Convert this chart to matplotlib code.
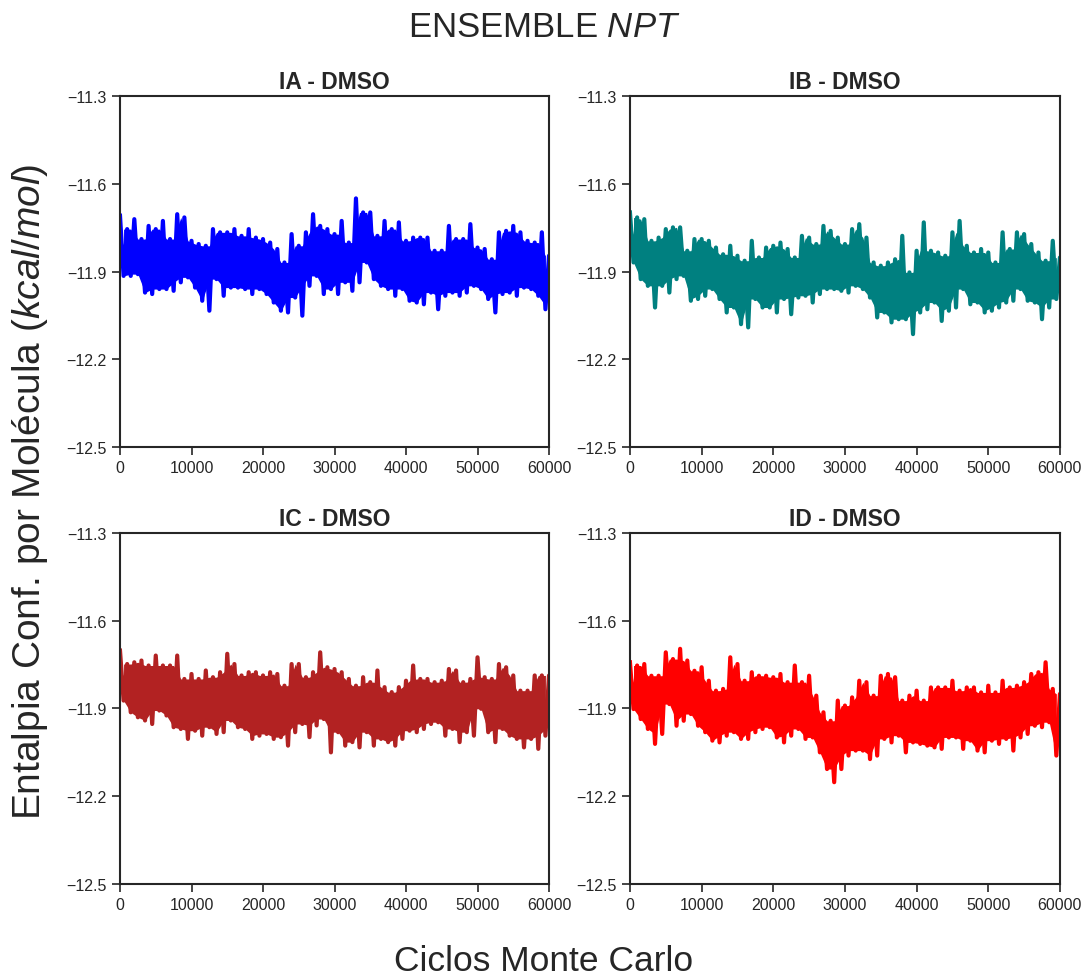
import matplotlib

matplotlib.use('Agg')
import matplotlib.pyplot as plt
import numpy as np

# Envelope readings per 1000 MC cycles (k = 0..60): local maxima and minima
ia_top = [-11.709, -11.755, -11.721, -11.789, -11.744, -11.755, -11.727, -11.789, -11.704, -11.715,
          -11.795, -11.806, -11.812, -11.755, -11.766, -11.766, -11.755, -11.778, -11.755, -11.784,
          -11.789, -11.801, -11.823, -11.869, -11.772, -11.812, -11.766, -11.704, -11.744, -11.755,
          -11.772, -11.727, -11.801, -11.650, -11.698, -11.698, -11.778, -11.727, -11.755, -11.732,
          -11.795, -11.784, -11.784, -11.784, -11.829, -11.829, -11.744, -11.789, -11.789, -11.738,
          -11.818, -11.823, -11.858, -11.766, -11.761, -11.744, -11.766, -11.795, -11.801, -11.766,
          -11.846]
ia_bot = [-11.915, -11.915, -11.909, -11.972, -11.977, -11.960, -11.960, -11.966, -11.937, -11.920,
          -11.955, -12.000, -12.034, -11.926, -11.983, -11.955, -11.955, -11.960, -11.977, -11.960,
          -11.977, -12.006, -12.034, -12.040, -11.989, -12.051, -11.949, -11.915, -11.977, -11.960,
          -11.977, -11.937, -11.966, -11.937, -11.869, -11.926, -11.949, -11.960, -11.983, -11.960,
          -12.000, -12.006, -12.012, -11.972, -12.029, -11.983, -11.972, -11.983, -11.972, -11.949,
          -11.960, -11.994, -12.040, -11.977, -11.972, -11.983, -11.955, -11.960, -11.983, -12.029,
          -12.017]

ib_top = [-11.698, -11.715, -11.721, -11.795, -11.784, -11.755, -11.749, -11.749, -11.829, -11.789,
          -11.789, -11.795, -11.818, -11.841, -11.812, -11.846, -11.863, -11.795, -11.852, -11.818,
          -11.812, -11.801, -11.823, -11.852, -11.778, -11.784, -11.806, -11.744, -11.761, -11.784,
          -11.806, -11.755, -11.738, -11.784, -11.869, -11.880, -11.869, -11.858, -11.778, -11.903,
          -11.829, -11.732, -11.829, -11.835, -11.846, -11.766, -11.727, -11.812, -11.835, -11.823,
          -11.835, -11.869, -11.766, -11.823, -11.766, -11.772, -11.806, -11.835, -11.863, -11.795,
          -11.852]
ib_bot = [-11.869, -11.926, -11.949, -12.023, -11.949, -11.972, -11.926, -11.915, -12.000, -11.994,
          -11.983, -11.960, -11.994, -12.040, -12.023, -12.080, -12.091, -11.994, -12.023, -12.023,
          -12.040, -11.994, -12.046, -11.989, -11.983, -12.006, -11.977, -11.960, -11.960, -11.966,
          -11.972, -11.949, -11.960, -11.989, -12.057, -12.040, -12.074, -12.063, -12.063, -12.114,
          -12.040, -12.029, -12.006, -12.069, -12.034, -12.023, -11.960, -12.012, -12.006, -12.040,
          -12.034, -12.023, -12.006, -12.000, -11.960, -12.000, -12.006, -12.063, -12.023, -11.994,
          -12.006]

ic_top = [-11.702, -11.748, -11.742, -11.736, -11.753, -11.719, -11.753, -11.753, -11.719, -11.799,
          -11.782, -11.799, -11.770, -11.793, -11.776, -11.713, -11.748, -11.787, -11.776, -11.776,
          -11.787, -11.776, -11.782, -11.822, -11.748, -11.748, -11.793, -11.776, -11.708, -11.759,
          -11.765, -11.776, -11.799, -11.822, -11.793, -11.810, -11.770, -11.827, -11.844, -11.827,
          -11.805, -11.753, -11.799, -11.799, -11.810, -11.805, -11.765, -11.770, -11.810, -11.799,
          -11.725, -11.793, -11.799, -11.748, -11.759, -11.787, -11.839, -11.839, -11.787, -11.787,
          -11.787]
ic_bot = [-11.873, -11.913, -11.930, -11.941, -11.953, -11.907, -11.924, -11.964, -11.970, -12.004,
          -11.976, -11.993, -11.964, -11.987, -11.981, -11.941, -11.964, -11.970, -12.004, -11.993,
          -11.987, -12.004, -11.998, -12.027, -11.981, -11.953, -11.998, -11.958, -11.936, -12.050,
          -11.981, -12.027, -12.015, -12.033, -11.981, -12.027, -12.004, -12.015, -12.027, -12.004,
          -11.976, -11.981, -11.970, -11.953, -11.947, -11.993, -11.970, -12.015, -11.981, -11.993,
          -11.901, -11.981, -12.015, -11.970, -11.993, -12.004, -12.033, -12.004, -12.038, -11.993,
          -11.970]

id_top = [-11.742, -11.753, -11.748, -11.788, -11.788, -11.708, -11.731, -11.696, -11.736, -11.771,
          -11.759, -11.805, -11.839, -11.833, -11.725, -11.748, -11.805, -11.776, -11.788, -11.788,
          -11.793, -11.782, -11.810, -11.753, -11.810, -11.788, -11.856, -11.913, -11.942, -11.873,
          -11.890, -11.862, -11.805, -11.810, -11.856, -11.788, -11.782, -11.793, -11.873, -11.856,
          -11.839, -11.873, -11.828, -11.828, -11.828, -11.805, -11.839, -11.828, -11.828, -11.845,
          -11.822, -11.845, -11.805, -11.828, -11.822, -11.810, -11.782, -11.776, -11.742, -11.833,
          -11.850]
id_bot = [-11.902, -11.936, -11.970, -12.021, -11.987, -11.885, -11.959, -11.942, -11.919, -11.959,
          -11.981, -12.010, -12.016, -11.993, -11.981, -12.004, -12.004, -11.981, -11.970, -11.964,
          -11.999, -12.016, -11.993, -11.970, -12.004, -11.999, -12.050, -12.107, -12.152, -12.107,
          -12.061, -12.044, -12.044, -12.073, -12.061, -12.004, -12.016, -11.993, -12.050, -12.016,
          -12.021, -12.027, -12.033, -12.038, -11.999, -11.999, -12.038, -12.010, -12.044, -12.050,
          -12.010, -12.021, -12.004, -12.044, -11.999, -11.987, -11.959, -11.964, -11.947, -12.061,
          -12.073]

titles = ['IA - DMSO', 'IB - DMSO', 'IC - DMSO', 'ID - DMSO']
colors = ['#0000ff', '#008080', '#b22222', '#ff0000']
yticks = [-11.3, -11.6, -11.9, -12.2, -12.5]
xticks = [0, 10000, 20000, 30000, 40000, 50000, 60000]

plt.rcParams['font.family'] = ['Liberation Sans', 'DejaVu Sans']
plt.rcParams['mathtext.fontset'] = 'custom'
plt.rcParams['mathtext.it'] = 'Liberation Sans:italic'
plt.rcParams['mathtext.rm'] = 'Liberation Sans'
ink = '#262626'


def zigzag(top, bot):
    top = np.asarray(top)
    bot = np.asarray(bot)
    k = np.arange(len(top)) * 1000.0
    x = np.empty(2 * len(top))
    y = np.empty(2 * len(top))
    x[0::2], x[1::2] = k, k + 500.0
    y[0::2], y[1::2] = top, bot
    return x, y


def core(top, bot):
    # solid inner part of the trace: between the lower of two neighbouring maxima
    # and the higher of two neighbouring minima
    top = np.asarray(top)
    bot = np.asarray(bot)
    xm = np.arange(len(top) - 1) * 1000.0 + 500.0
    hi = np.minimum(top[:-1], top[1:])
    lo = np.maximum(bot[:-1], bot[1:])
    return xm, hi, lo


series = [(ia_top, ia_bot), (ib_top, ib_bot), (ic_top, ic_bot), (id_top, id_bot)]

fig = plt.figure(figsize=(10.88, 9.78), dpi=100)
boxes = [
    [0.1103, 0.5419, 0.3943, 0.3589],
    [0.5790, 0.5419, 0.3952, 0.3589],
    [0.1103, 0.0951, 0.3943, 0.3589],
    [0.5790, 0.0951, 0.3952, 0.3589],
]

for box, (top, bot), title, color in zip(boxes, series, titles, colors):
    ax = fig.add_axes(box)
    xm, hi, lo = core(top, bot)
    ax.fill_between(xm, hi, lo, color=color, lw=0)
    x, y = zigzag(top, bot)
    ax.plot(x, y, color=color, lw=3.0, solid_joinstyle='round')
    ax.set_xlim(0, 60000)
    ax.set_ylim(-12.5, -11.3)
    ax.set_yticks(yticks)
    ax.set_yticklabels([f'{v:.1f}'.replace('-', '\u2212') for v in yticks])
    ax.set_xticks(xticks)
    ax.set_title(title, fontsize=16.5, fontweight='bold', color=ink, pad=6)
    ax.tick_params(direction='out', length=6, width=1.2, colors=ink, labelsize=11.5)
    for sp in ax.spines.values():
        sp.set_color(ink)
        sp.set_linewidth(1.5)

fig.text(0.5, 0.972, r'ENSEMBLE $\it{NPT}$', ha='center', va='center', fontsize=25, color=ink)
fig.text(0.5, 0.017, 'Ciclos Monte Carlo', ha='center', va='center', fontsize=25.5, color=ink)
fig.text(0.028, 0.497, r'Entalpia Conf. por Molécula ($\it{kcal/mol}$)', rotation=90,
         ha='center', va='center', fontsize=28, color=ink)

fig.savefig('out.png', dpi=100)
